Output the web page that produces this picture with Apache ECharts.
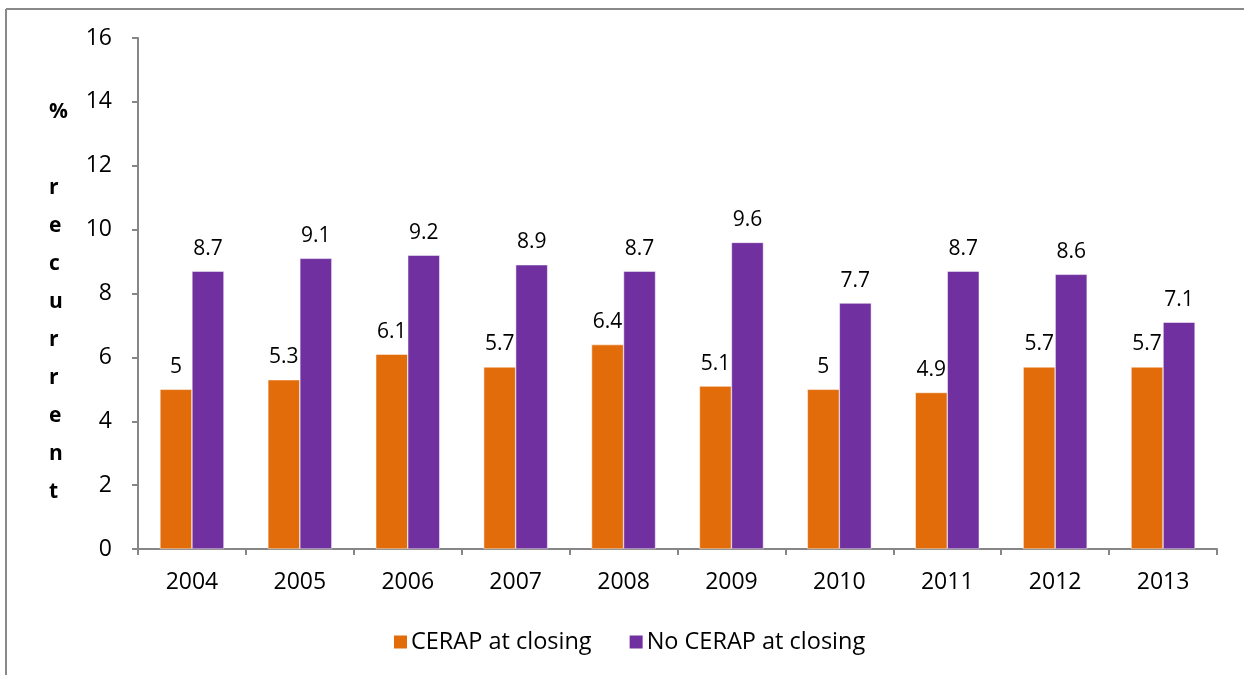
<!DOCTYPE html>
<html>
<head>
<meta charset="utf-8">
<script src="https://cdn.jsdelivr.net/npm/echarts@6/dist/echarts.min.js"></script>
<style>html,body{margin:0;padding:0;background:#fff}#c{width:1244px;height:675px}</style>
</head>
<body>
<div id="c"></div>
<script>
const categories = ['2004','2005','2006','2007','2008','2009','2010','2011','2012','2013'];
const cerap = [5, 5.3, 6.1, 5.7, 6.4, 5.1, 5, 4.9, 5.7, 5.7];
const noCerap = [8.7, 9.1, 9.2, 8.9, 8.7, 9.6, 7.7, 8.7, 8.6, 7.1];
const seriesNames = ['CERAP at closing', 'No CERAP at closing'];
const yAxisTitle = '%\n\nr\ne\nc\nu\nr\nr\ne\nn\nt';

const FONT = '"Open Sans", Lato, sans-serif';
const chart = echarts.init(document.getElementById('c'), null, {renderer: 'canvas'});
const labelCfg = {show: true, position: 'top', distance: 12, color: '#000', fontSize: 21, fontFamily: FONT};
chart.setOption({
  animation: false,
  backgroundColor: '#fff',
  graphic: [
    {type: 'line', shape: {x1: 6, y1: 9, x2: 1250, y2: 9}, style: {stroke: '#898989', lineWidth: 2}},
    {type: 'line', shape: {x1: 6, y1: 9, x2: 6, y2: 680}, style: {stroke: '#898989', lineWidth: 2}},
    {type: 'text', left: 49, top: 93, style: {text: yAxisTitle, fontSize: 21, fontWeight: 'bold', fontFamily: FONT, lineHeight: 38, fill: '#000', align: 'center'}}
  ],
  legend: {
    left: 387, top: 625, itemWidth: 15, itemHeight: 15, itemGap: 36, icon: 'rect',
    textStyle: {fontSize: 23.5, fontFamily: FONT, color: '#000', padding: [0,0,0,-2]},
    data: seriesNames
  },
  grid: {left: 138, right: 27, top: 38, bottom: 126},
  xAxis: {
    type: 'category', data: categories,
    axisLine: {lineStyle: {color: '#868686', width: 2}},
    axisTick: {show: true, length: 6, lineStyle: {color: '#868686', width: 2}},
    axisLabel: {fontSize: 23, fontFamily: FONT, color: '#000', margin: 22}
  },
  yAxis: {
    type: 'value', min: 0, max: 16, interval: 2,
    axisLine: {show: true, lineStyle: {color: '#868686', width: 2}},
    axisTick: {show: true, length: 6, lineStyle: {color: '#868686', width: 2}},
    axisLabel: {fontSize: 23, fontFamily: FONT, color: '#000', margin: 26},
    splitLine: {show: false}
  },
  series: [
    {name: seriesNames[0], type: 'bar', data: cerap, barWidth: 32, barGap: '0%',
     itemStyle: {color: '#E36C0A', borderColor: '#fff', borderWidth: 0.5}, label: labelCfg},
    {name: seriesNames[1], type: 'bar', data: noCerap, barWidth: 32, barGap: '0%',
     itemStyle: {color: '#7030A0', borderColor: '#fff', borderWidth: 0.5}, label: labelCfg}
  ]
});
</script>
</body>
</html>
